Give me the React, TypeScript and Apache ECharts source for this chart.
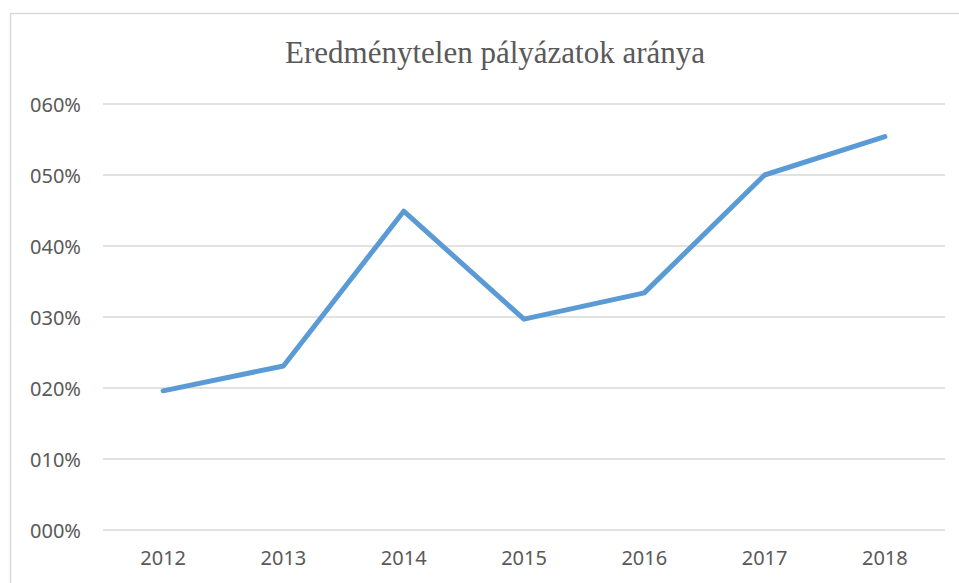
import React, { useEffect, useRef } from "react";
import * as echarts from "echarts";

const title = "Eredménytelen pályázatok aránya";
const years = ["2012", "2013", "2014", "2015", "2016", "2017", "2018"];
const shares = [19.6, 23.1, 44.9, 29.7, 33.4, 50.0, 55.4];
const yMin = 0;
const yMax = 60;
const yStep = 10;

export default function App() {
  const ref = useRef<HTMLDivElement>(null);
  useEffect(() => {
    if (!ref.current) return;
    const chart = echarts.init(ref.current, null, { renderer: "svg" });
    chart.setOption({
      animation: false,
      backgroundColor: "#ffffff",
      title: {
        text: title,
        left: 490,
        textAlign: "center",
        top: 32,
        textStyle: {
          fontFamily: "Liberation Serif",
          fontSize: 31,
          fontWeight: "normal",
          color: "#595959",
        },
      },
      graphic: [
        {
          type: "rect",
          shape: { x: 10.5, y: 13.5, width: 1000, height: 1000 },
          style: { fill: "none", stroke: "#d9d9d9", lineWidth: 1.5 },
          silent: true,
        },
      ],
      grid: { left: 103, right: 14, top: 104, bottom: 53, containLabel: false },
      xAxis: {
        type: "category",
        data: years,
        boundaryGap: true,
        axisLine: { show: false },
        axisTick: { show: false },
        axisLabel: {
          color: "#595959",
          fontFamily: "Noto Sans",
          fontSize: 20,
          margin: 17,
        },
      },
      yAxis: {
        type: "value",
        min: yMin,
        max: yMax,
        interval: yStep,
        axisLine: { show: false },
        axisTick: { show: false },
        splitLine: { lineStyle: { color: "#d9d9d9", width: 1.5 } },
        axisLabel: {
          color: "#595959",
          fontFamily: "Noto Sans",
          fontSize: 20,
          margin: 22,
          formatter: (v: number) => String(Math.round(v)).padStart(3, "0") + "%",
        },
      },
      series: [
        {
          type: "line",
          data: shares,
          symbol: "none",
          lineStyle: { color: "#5b9bd5", width: 5, cap: "round", join: "round" },
        },
      ],
    });
    return () => chart.dispose();
  }, []);
  return (
    <div
      ref={ref}
      style={{ position: "absolute", left: 0, top: 0, width: 959, height: 583 }}
    />
  );
}
